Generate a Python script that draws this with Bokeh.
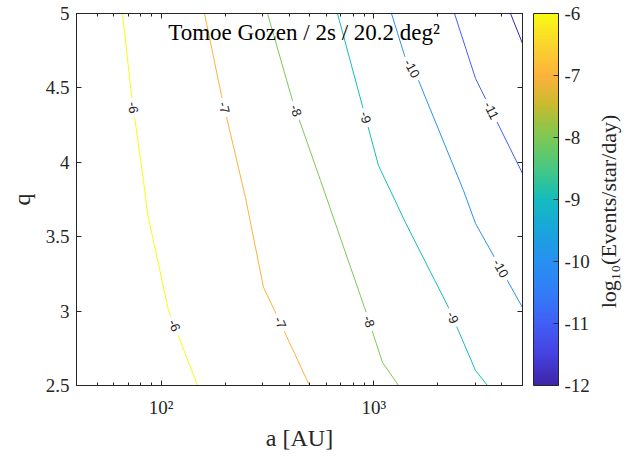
import math

from bokeh.core.properties import value
from bokeh.embed import file_html
from bokeh.models import (AllLabels, ColorBar, ColumnDataSource, FixedTicker, Label,
                          LinearAxis, LinearColorMapper, LogAxis)
from bokeh.plotting import figure
from bokeh.resources import INLINE

# ---------------------------------------------------------------- data
# contour levels: log10(Events/star/day)
levels = [-6, -7, -8, -9, -10, -11, -12]
cbar_tick_values = [-12, -11, -10, -9, -8, -7, -6]
cbar_tick_labels = ["-12", "-11", "-10", "-9", "-8", "-7", "-6"]

# contour vertices, semi-major axis a [AU] against q
c6_a = [65.8, 72.6, 82.6, 86.3, 108.3, 119.4, 148.3]
c6_q = [5.0, 4.449, 3.878, 3.656, 3.004, 2.849, 2.5]
c7_a = [159.9, 192.2, 249.2, 302.9, 341.3, 498.4]
c7_q = [5.0, 4.449, 3.763, 3.159, 3.004, 2.5]
c8_a = [316.3, 414.6, 561.6, 903.8, 1098.3, 1306.2]
c8_q = [5.0, 4.415, 3.878, 3.024, 2.655, 2.5]
c9_a = [674.8, 1051.9, 1408.9, 2244.3, 3006.9, 3422.0]
c9_q = [5.0, 3.978, 3.595, 3.024, 2.601, 2.5]
c10_a = [1210.6, 1393.8, 1622.2, 2640.1, 3006.9, 5000.0]
c10_q = [5.0, 4.718, 4.550, 3.810, 3.589, 3.024]
c11_a = [2394.6, 3006.9, 5000.0]
c11_q = [5.0, 4.563, 3.925]
c12_a = [4391.5, 5000.0]
c12_q = [5.0, 4.798]

# inline contour labels: which level, and the q where the label sits
label_levels = [-6, -6, -7, -7, -8, -8, -9, -9, -10, -10, -11]
label_q = [4.368, 2.903, 4.368, 2.923, 4.348, 2.930, 4.301, 2.957, 4.630, 3.286, 4.348]

# axes
a_range = (40, 5000)
q_range = (2.5, 5)
x_tick_values = [100, 1000]
x_tick_labels = ["10²", "10³"]
x_minor_ticks = [40, 50, 60, 70, 80, 90, 200, 300, 400, 500, 600, 700, 800, 900,
                 2000, 3000, 4000, 5000]
y_tick_values = [2.5, 3, 3.5, 4, 4.5, 5]
y_tick_labels = ["2.5", "3", "3.5", "4", "4.5", "5"]

title_text = "Tomoe Gozen / 2s / 20.2 deg²"
cbar_title = "log₁₀(Events/star/day)"

# ---------------------------------------------------------------- style
W, H = 633, 457
BORDER_L, BORDER_R, BORDER_T, BORDER_B = 76, 111, 13, 72
AX = "#262626"
SERIF = "Liberation Serif"

# parula-like colour ramp
parula_stops = [
    (0.000, (62, 38, 168)),
    (0.083, (70, 65, 225)),
    (0.167, (65, 95, 245)),
    (0.250, (50, 125, 248)),
    (0.333, (40, 145, 240)),
    (0.417, (25, 165, 220)),
    (0.500, (20, 188, 190)),
    (0.583, (70, 200, 130)),
    (0.667, (125, 200, 85)),
    (0.700, (150, 196, 70)),
    (0.760, (205, 186, 46)),
    (0.833, (252, 178, 60)),
    (0.917, (250, 212, 45)),
    (1.000, (249, 251, 20)),
]


def ramp(t):
    t = min(max(t, 0.0), 1.0)
    for (t0, c0), (t1, c1) in zip(parula_stops[:-1], parula_stops[1:]):
        if t <= t1:
            f = 0.0 if t1 == t0 else (t - t0) / (t1 - t0)
            rgb = [round(c0[i] + f * (c1[i] - c0[i])) for i in range(3)]
            return "#%02x%02x%02x" % tuple(rgb)
    return "#%02x%02x%02x" % parula_stops[-1][1]


palette = [ramp(i / 255) for i in range(256)]
lo, hi = min(levels), max(levels)


def level_color(lv):
    return ramp((lv - lo) / (hi - lo))


contours = {
    -6: (c6_a, c6_q), -7: (c7_a, c7_q), -8: (c8_a, c8_q), -9: (c9_a, c9_q),
    -10: (c10_a, c10_q), -11: (c11_a, c11_q), -12: (c12_a, c12_q),
}

# ---------------------------------------------------------------- figure
p = figure(width=W, height=H, x_axis_type="log", x_range=a_range, y_range=q_range,
           output_backend="svg", toolbar_location=None,
           min_border_left=BORDER_L, min_border_right=BORDER_R,
           min_border_top=BORDER_T, min_border_bottom=BORDER_B)
p.xgrid.visible = False
p.ygrid.visible = False
p.outline_line_color = AX
p.outline_line_width = 1
p.background_fill_color = "white"
p.border_fill_color = "white"

# contour lines
line_src = ColumnDataSource(dict(
    xs=[contours[lv][0] for lv in levels],
    ys=[contours[lv][1] for lv in levels],
    color=[level_color(lv) for lv in levels],
))
p.multi_line(xs="xs", ys="ys", line_color="color", line_width=1, source=line_src)

# inline labels placed on their contour, rotated along it
frame_w = W - BORDER_L - BORDER_R
frame_h = H - BORDER_T - BORDER_B
px_per_dec = frame_w / (math.log10(a_range[1]) - math.log10(a_range[0]))
px_per_q = frame_h / (q_range[1] - q_range[0])

lx, ly, lang, ltxt = [], [], [], []
for lv, q in zip(label_levels, label_q):
    av, qv = contours[lv]
    for i in range(len(qv) - 1):
        if qv[i] >= q >= qv[i + 1]:
            la0, la1 = math.log10(av[i]), math.log10(av[i + 1])
            f = (qv[i] - q) / (qv[i] - qv[i + 1])
            lx.append(10 ** (la0 + f * (la1 - la0)))
            ly.append(q)
            down = (qv[i] - qv[i + 1]) * px_per_q
            right = (la1 - la0) * px_per_dec
            lang.append(-math.atan2(down, right))
            ltxt.append(str(lv))
            break

lab_src = ColumnDataSource(dict(x=lx, y=ly, angle=lang, text=ltxt))
p.text(x="x", y="y", text="text", angle="angle", source=lab_src,
       text_font=value("Liberation Sans"), text_font_size=value("13px"),
       text_color="#222222", text_align="center", text_baseline="middle",
       background_fill_color="white", padding=4)

# title inside the axes
p.add_layout(Label(x=470, y=4.872, text=title_text, text_align="center",
                   text_baseline="middle", text_font=SERIF, text_font_size="23px",
                   text_color="black"))

# ---------------------------------------------------------------- axes
xt = FixedTicker(ticks=x_tick_values, minor_ticks=x_minor_ticks)
yt = FixedTicker(ticks=y_tick_values)


def style_axis(ax):
    ax.axis_line_color = AX
    ax.axis_line_width = 1
    ax.major_tick_line_color = AX
    ax.minor_tick_line_color = AX
    ax.major_tick_in = 5
    ax.major_tick_out = 0
    ax.minor_tick_in = 3
    ax.minor_tick_out = 0
    ax.major_label_text_font = SERIF
    ax.major_label_text_font_size = "19px"
    ax.major_label_text_color = AX
    ax.axis_label_text_font = SERIF
    ax.axis_label_text_font_size = "24px"
    ax.axis_label_text_font_style = "normal"
    ax.axis_label_text_color = AX


xa = p.xaxis[0]
xa.ticker = xt
xa.major_label_overrides = dict(zip(x_tick_values, x_tick_labels))
xa.axis_label = "a [AU]"
style_axis(xa)
xa.major_label_standoff = 11
xa.axis_label_standoff = 4

ya = p.yaxis[0]
ya.ticker = yt
ya.major_label_overrides = dict(zip(y_tick_values, y_tick_labels))
ya.axis_label = "q"
style_axis(ya)
ya.major_label_standoff = 7
ya.axis_label_standoff = 8

# mirrored tick marks on the top and right edges, without labels
top = LogAxis(ticker=xt)
style_axis(top)
top.major_label_text_font_size = "2px"
top.major_label_text_alpha = 0
top.major_label_standoff = 0
p.add_layout(top, "above")

right = LinearAxis(ticker=yt)
style_axis(right)
right.major_label_text_font_size = "2px"
right.major_label_text_alpha = 0
right.major_label_standoff = 0
p.add_layout(right, "right")

# ---------------------------------------------------------------- colour bar
mapper = LinearColorMapper(palette=palette, low=lo, high=hi)
cbar = ColorBar(color_mapper=mapper, ticker=FixedTicker(ticks=cbar_tick_values),
                major_label_overrides=dict(zip(cbar_tick_values, cbar_tick_labels)),
                major_label_policy=AllLabels(),
                width=25, height=frame_h, padding=0, margin=0, location=(11, 0),
                label_standoff=6, major_tick_in=5, major_tick_out=0,
                major_tick_line_color=AX, minor_tick_line_color=None,
                bar_line_color=AX, bar_line_width=1, border_line_color=None,
                background_fill_color=None,
                major_label_text_font=SERIF, major_label_text_font_size="19px",
                major_label_text_color=AX)
p.add_layout(cbar, "right")

# colour bar caption, read bottom to top, in its own side panel
p.add_layout(Label(x=608, y=211, x_units="canvas", y_units="canvas",
                   text=cbar_title, angle=math.pi / 2,
                   text_align="center", text_baseline="middle",
                   text_font=SERIF, text_font_size="22px", text_color=AX), "right")

open("out.html", "w").write(file_html(p, INLINE))
